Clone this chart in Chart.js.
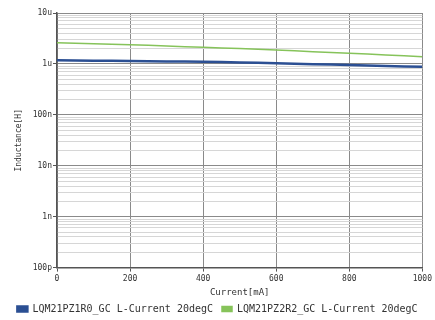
<!DOCTYPE html>
<html>
<head>
<meta charset="utf-8">
<script src="https://cdn.jsdelivr.net/npm/chart.js@4.4.0/dist/chart.umd.min.js"></script>
<style>
  html, body { margin: 0; padding: 0; background: #fff; }
  #wrap { width: 435px; height: 320px; }
</style>
</head>
<body>
<div id="wrap"><canvas id="grafico-inductancia"></canvas></div>
<script>
// Corriente en mA, inductancia en uH
const corrientes = [0, 100, 200, 300, 400, 500, 600, 700, 800, 900, 1000];
const lqm1r0 = [1.18, 1.16, 1.14, 1.12, 1.10, 1.07, 1.03, 0.99, 0.95, 0.91, 0.88];
const lqm2r2 = [2.60, 2.50, 2.38, 2.25, 2.12, 2.00, 1.87, 1.74, 1.62, 1.50, 1.38];
const nombres = ["LQM21PZ1R0_GC L-Current 20degC", "LQM21PZ2R2_GC L-Current 20degC"];
const decadas = [1e-10, 1e-9, 1e-8, 1e-7, 1e-6, 1e-5];
const etiquetasY = ["100p", "1n", "10n", "100n", "1u", "10u"];

const fuente = { family: "'DejaVu Sans Mono', monospace", size: 8 };

function aPuntos(valores) {
  return corrientes.map((c, i) => ({ x: c, y: valores[i] * 1e-6 }));
}

const ctx = document.getElementById("grafico-inductancia");
new Chart(ctx, {
  type: "line",
  data: {
    datasets: [
      {
        label: nombres[0],
        data: aPuntos(lqm1r0),
        borderColor: "#2b4f93",
        backgroundColor: "#2b4f93",
        borderWidth: 2.5,
        pointRadius: 0,
        tension: 0.3
      },
      {
        label: nombres[1],
        data: aPuntos(lqm2r2),
        borderColor: "#86c35a",
        backgroundColor: "#86c35a",
        borderWidth: 1.5,
        pointRadius: 0,
        tension: 0.3
      }
    ]
  },
  options: {
    responsive: true,
    maintainAspectRatio: false,
    animation: false,
    layout: { padding: { top: 13, right: 0, left: 0, bottom: -4 } },
    plugins: {
      tooltip: { enabled: false },
      legend: {
        position: "bottom",
        labels: {
          boxWidth: 10,
          boxHeight: 5,
          padding: 9,
          color: "#333",
          font: { family: "'DejaVu Sans Mono', monospace", size: 10 }
        }
      }
    },
    scales: {
      x: {
        type: "linear",
        min: 0,
        max: 1000,
        ticks: { stepSize: 200, color: "#333", font: fuente, padding: 3, callback: (v) => String(v) },
        grid: { color: "#8a8a8a", tickLength: 4, tickColor: "#555" },
        border: { color: "#555", width: 1.5 },
        title: { display: true, text: "Current[mA]", color: "#333", font: { family: fuente.family, size: 9 }, padding: { top: 0, bottom: -3 } }
      },
      y: {
        type: "logarithmic",
        min: 1e-10,
        max: 1e-5,
        afterFit: (scale) => { scale.width = 57; },
        afterBuildTicks: (scale) => {
          const t = [];
          for (let d = 0; d < decadas.length - 1; d++) {
            for (let m = 1; m <= 9; m++) t.push({ value: m * decadas[d] });
          }
          t.push({ value: decadas[decadas.length - 1] });
          scale.ticks = t;
        },
        ticks: {
          autoSkip: false,
          color: "#333",
          font: fuente,
          padding: 1,
          callback: (v, i) => (i % 9 === 0 ? etiquetasY[i / 9] : "")
        },
        grid: {
          tickLength: 4,
          color: (c) => (c.index % 9 === 0 ? "#8a8a8a" : "#d6d6d6"),
          tickColor: (c) => (c.index % 9 === 0 ? "#555" : "rgba(0,0,0,0)")
        },
        border: { color: "#555", width: 1.5 },
        title: { display: true, text: "Inductance[H]", color: "#333", font: fuente, padding: { top: 14, bottom: 0 } }
      }
    }
  }
});
</script>
</body>
</html>
